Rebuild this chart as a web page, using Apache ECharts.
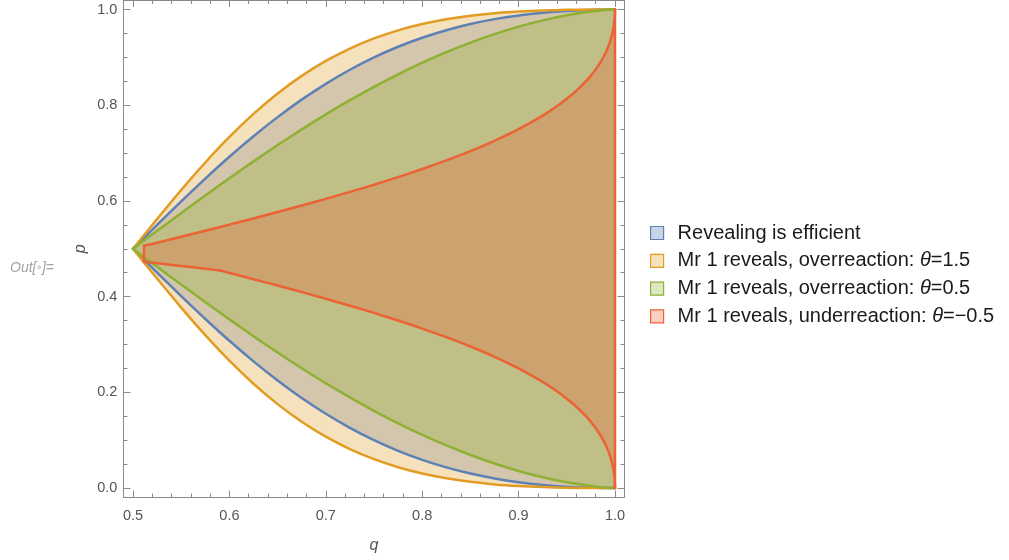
<!DOCTYPE html>
<html>
<head>
<meta charset="utf-8">
<script src="https://cdn.jsdelivr.net/npm/echarts@6/dist/echarts.min.js"></script>
<style>
html,body{margin:0;padding:0;background:#fff;}
#chart{width:1009px;height:560px;}
</style>
</head>
<body>
<div id="chart"></div>
<script>
// ---- data ----
const qGrid = [0.5, 0.525, 0.55, 0.575, 0.6, 0.625, 0.65, 0.675, 0.7, 0.725, 0.75, 0.775, 0.8, 0.825, 0.85, 0.875, 0.9, 0.925, 0.95, 0.975, 0.985, 0.993, 0.998, 1.0];

const blueUpper  = [0.5, 0.5499, 0.5990, 0.6467, 0.6923, 0.7353, 0.7752, 0.8118, 0.8448, 0.8742, 0.9000, 0.9223, 0.9412, 0.9569, 0.9698, 0.9800, 0.9878, 0.9935, 0.9972, 0.9993, 0.9998, 1.0, 1.0, 1.0];
const blueLower  = [0.5, 0.4501, 0.4010, 0.3533, 0.3077, 0.2647, 0.2248, 0.1882, 0.1552, 0.1258, 0.1000, 0.0777, 0.0588, 0.0431, 0.0302, 0.0200, 0.0122, 0.0065, 0.0028, 0.0007, 0.0002, 0.0, 0.0, 0.0];

const orangeUpper = [0.5, 0.5622, 0.6229, 0.6804, 0.7337, 0.7820, 0.8246, 0.8614, 0.8927, 0.9186, 0.9397, 0.9566, 0.9697, 0.9797, 0.9871, 0.9924, 0.9959, 0.9981, 0.9994, 0.9999, 1.0, 1.0, 1.0, 1.0];
const orangeLower = [0.5, 0.4378, 0.3771, 0.3196, 0.2663, 0.2180, 0.1754, 0.1386, 0.1073, 0.0814, 0.0603, 0.0434, 0.0303, 0.0203, 0.0129, 0.0076, 0.0041, 0.0019, 0.0006, 0.0001, 0.0, 0.0, 0.0, 0.0];

const greenUpper = [0.5, 0.5375, 0.5747, 0.6115, 0.6475, 0.6827, 0.7168, 0.7496, 0.7809, 0.8106, 0.8386, 0.8647, 0.8889, 0.9110, 0.9310, 0.9488, 0.9643, 0.9774, 0.9881, 0.9959, 0.9981, 0.9994, 0.9999, 1.0];
const greenLower = [0.5, 0.4625, 0.4253, 0.3885, 0.3525, 0.3173, 0.2832, 0.2504, 0.2191, 0.1894, 0.1614, 0.1353, 0.1111, 0.0890, 0.0690, 0.0512, 0.0357, 0.0226, 0.0119, 0.0041, 0.0019, 0.0006, 0.0001, 0.0];

const qRedUpper = [0.5114, 0.525, 0.55, 0.575, 0.6, 0.625, 0.65, 0.675, 0.7, 0.725, 0.75, 0.775, 0.8, 0.825, 0.85, 0.875, 0.9, 0.925, 0.94, 0.95, 0.96, 0.97, 0.975, 0.98, 0.985, 0.99, 0.993, 0.995, 0.998, 0.9995, 0.9998, 1.0];
const redUpper  = [0.5063, 0.5125, 0.5251, 0.5377, 0.5505, 0.5635, 0.5768, 0.5904, 0.6044, 0.6189, 0.6340, 0.6499, 0.6667, 0.6847, 0.7042, 0.7257, 0.7500, 0.7784, 0.7983, 0.8134, 0.8305, 0.8504, 0.8620, 0.8750, 0.8902, 0.9087, 0.9225, 0.9338, 0.9572, 0.9781, 0.9861, 1.0];
const qRedLower = [0.5114, 0.59, 0.6, 0.625, 0.65, 0.675, 0.7, 0.725, 0.75, 0.775, 0.8, 0.825, 0.85, 0.875, 0.9, 0.925, 0.94, 0.95, 0.96, 0.97, 0.975, 0.98, 0.985, 0.99, 0.993, 0.995, 0.998, 0.9995, 0.9998, 1.0];
const redLower  = [0.4730, 0.4546, 0.4495, 0.4365, 0.4232, 0.4096, 0.3956, 0.3811, 0.3660, 0.3501, 0.3333, 0.3153, 0.2958, 0.2743, 0.2500, 0.2216, 0.2017, 0.1866, 0.1695, 0.1496, 0.1380, 0.1250, 0.1098, 0.0913, 0.0775, 0.0662, 0.0428, 0.0219, 0.0139, 0.0];

const seriesNames = [
  'Revealing is efficient',
  'Mr 1 reveals, overreaction: \u03b8=1.5',
  'Mr 1 reveals, overreaction: \u03b8=0.5',
  'Mr 1 reveals, underreaction: \u03b8=\u22120.5'
];

const xMajorTicks = [0.5, 0.6, 0.7, 0.8, 0.9, 1.0];
const xMinorTicks = [0.52, 0.54, 0.56, 0.58, 0.62, 0.64, 0.66, 0.68, 0.72, 0.74, 0.76, 0.78, 0.82, 0.84, 0.86, 0.88, 0.92, 0.94, 0.96, 0.98];
const yMajorTicks = [0.0, 0.2, 0.4, 0.6, 0.8, 1.0];
const yMinorTicks = [0.05, 0.1, 0.15, 0.25, 0.3, 0.35, 0.45, 0.5, 0.55, 0.65, 0.7, 0.75, 0.85, 0.9, 0.95];

// ---- styles ----
const FONT = '"Liberation Sans", Arial, Helvetica, sans-serif';
const frameColor = '#8a8a8a';
const labelColor = '#555555';
const lineColors = ['#5E81B5', '#E19C24', '#8FB032', '#EB6235'];
const fillColors = ['rgba(94,129,181,0.3)', 'rgba(225,156,36,0.3)', 'rgba(143,176,50,0.3)', 'rgba(235,98,53,0.3)'];
const legendFills = ['#c8d5e9', '#f7e1bd', '#dde7c2', '#f9d0c2'];

const regions = [
  [qGrid, blueUpper, qGrid, blueLower],
  [qGrid, orangeUpper, qGrid, orangeLower],
  [qGrid, greenUpper, qGrid, greenLower],
  [qRedUpper, redUpper, qRedLower, redLower]
];

function fillRenderer(r, idx) {
  return function (params, api) {
    const pts = [];
    for (let i = 0; i < r[0].length; i++) pts.push(api.coord([r[0][i], r[1][i]]));
    for (let i = r[2].length - 1; i >= 0; i--) pts.push(api.coord([r[2][i], r[3][i]]));
    return { type: 'polygon', shape: { points: pts }, style: { fill: fillColors[idx], stroke: null } };
  };
}

function bbox(pts) {
  let x0 = Infinity, y0 = Infinity, x1 = -Infinity, y1 = -Infinity;
  pts.forEach(function (p) {
    x0 = Math.min(x0, p[0]); y0 = Math.min(y0, p[1]);
    x1 = Math.max(x1, p[0]); y1 = Math.max(y1, p[1]);
  });
  return [[x0, y0], [x1, y1]];
}

function strokeRenderer(r, idx) {
  return function (params, api) {
    const up = [], lo = [];
    for (let i = 0; i < r[0].length; i++) up.push(api.coord([r[0][i], r[1][i]]));
    for (let i = 0; i < r[2].length; i++) lo.push(api.coord([r[2][i], r[3][i]]));
    const st = { stroke: lineColors[idx], lineWidth: 2.5, fill: null, lineJoin: 'round', lineCap: 'round' };
    const children = [
      { type: 'polyline', shape: { points: up, smooth: 0.25, smoothConstraint: bbox(up) }, style: st },
      { type: 'polyline', shape: { points: lo, smooth: 0.25, smoothConstraint: bbox(lo) }, style: st }
    ];
    if (idx === 3) {
      children.push({ type: 'polyline', shape: { points: [up[0], lo[0]] }, style: st });
      children.push({ type: 'polyline', shape: { points: [up[up.length - 1], lo[lo.length - 1]] }, style: st });
    }
    return { type: 'group', children: children };
  };
}

const series = [];
regions.forEach(function (r, i) {
  series.push({
    type: 'custom', name: seriesNames[i], coordinateSystem: 'cartesian2d',
    xAxisIndex: 0, yAxisIndex: 0, clip: false, silent: true, z: 2,
    data: [[0.75, 0.5]],
    itemStyle: { color: legendFills[i], borderColor: lineColors[i], borderWidth: 1.2 },
    renderItem: fillRenderer(r, i)
  });
});
regions.forEach(function (r, i) {
  series.push({
    type: 'custom', name: 'boundary' + i, coordinateSystem: 'cartesian2d',
    xAxisIndex: 0, yAxisIndex: 0, clip: false, silent: true, z: 3,
    data: [[0.75, 0.5]],
    renderItem: strokeRenderer(r, i)
  });
});

function mkX(position, ticks, len, showLine, showLabels, extra) {
  return Object.assign({
    type: 'value', position: position, min: 0.49, max: 1.01,
    axisLine: { show: showLine, onZero: false, lineStyle: { color: frameColor, width: 1 } },
    axisTick: { show: true, inside: true, length: len, customValues: ticks, lineStyle: { color: frameColor, width: 1 } },
    axisLabel: { show: showLabels, customValues: xMajorTicks, formatter: function (v) { return v.toFixed(1); },
                 color: labelColor, fontSize: 14.5, fontFamily: FONT, margin: 11 },
    splitLine: { show: false }, minorTick: { show: false }
  }, extra || {});
}
function mkY(position, ticks, len, showLine, showLabels, extra) {
  return Object.assign({
    type: 'value', position: position, min: -0.02, max: 1.02,
    axisLine: { show: showLine, onZero: false, lineStyle: { color: frameColor, width: 1 } },
    axisTick: { show: true, inside: true, length: len, customValues: ticks, lineStyle: { color: frameColor, width: 1 } },
    axisLabel: { show: showLabels, customValues: yMajorTicks, formatter: function (v) { return v.toFixed(1); },
                 color: labelColor, fontSize: 14.5, fontFamily: FONT, margin: 6 },
    splitLine: { show: false }, minorTick: { show: false }
  }, extra || {});
}

const option = {
  animation: false,
  backgroundColor: '#ffffff',
  grid: { left: 123.35, right: 384.35, top: -3.6, bottom: 62.4 },
  xAxis: [
    mkX('bottom', xMajorTicks, 7, true, true, {
      name: 'q', nameLocation: 'middle', nameGap: 40,
      nameTextStyle: { fontStyle: 'italic', fontSize: 16, color: labelColor, fontFamily: FONT }
    }),
    mkX('bottom', xMinorTicks, 4, false, false),
    mkX('top', xMajorTicks, 7, true, false),
    mkX('top', xMinorTicks, 4, false, false)
  ],
  yAxis: [
    mkY('left', yMajorTicks, 7, true, true, {
      name: 'p', nameLocation: 'middle', nameGap: 35, nameRotate: 90,
      nameTextStyle: { fontStyle: 'italic', fontSize: 16, color: labelColor, fontFamily: FONT }
    }),
    mkY('left', yMinorTicks, 4, false, false),
    mkY('right', yMajorTicks, 7, true, false),
    mkY('right', yMinorTicks, 4, false, false)
  ],
  legend: {
    orient: 'vertical',
    left: 645,
    top: 218,
    icon: 'rect',
    itemWidth: 13,
    itemHeight: 13,
    itemGap: 7.8,
    selectedMode: false,
    data: seriesNames.map(function (n, i) {
      return { name: n, itemStyle: { color: legendFills[i], borderColor: lineColors[i], borderWidth: 1.2 } };
    }),
    formatter: function (name) {
      return '{sp|}' + name.replace('\u03b8', '{th|\u03b8}');
    },
    textStyle: {
      color: '#1a1a1a', fontSize: 20, fontFamily: FONT, lineHeight: 20,
      rich: {
        sp: { width: 9, fontSize: 20, lineHeight: 20 },
        th: { fontStyle: 'italic', fontSize: 20, fontFamily: FONT, color: '#1a1a1a', lineHeight: 20 }
      }
    }
  },
  graphic: [{
    type: 'text', left: 10, top: 261,
    style: {
      text: 'Out[{d|\u25cf}]=',
      font: 'italic 14px ' + FONT,
      fill: '#a3a3a3',
      rich: { d: { fontSize: 9, fill: '#d4d4d4', fontStyle: 'normal' } }
    }
  }],
  series: series
};

const chart = echarts.init(document.getElementById('chart'), null, { renderer: 'canvas' });
chart.setOption(option);
</script>
</body>
</html>
